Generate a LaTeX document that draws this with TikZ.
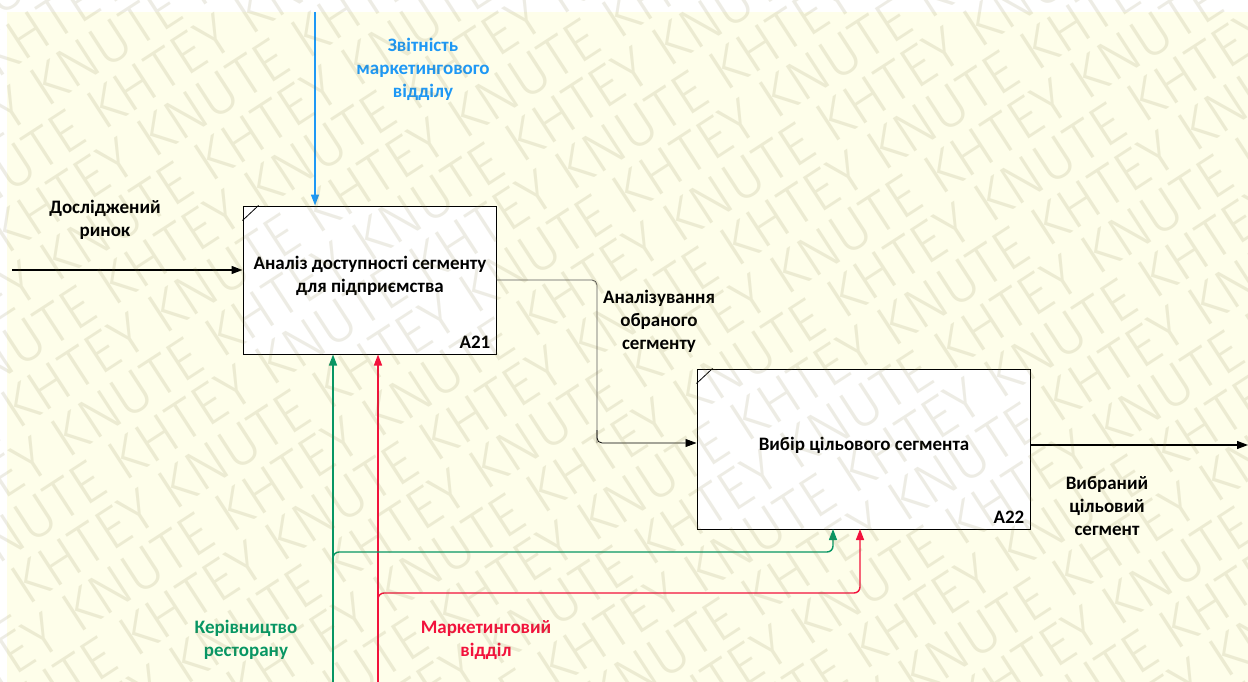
\documentclass[tikz,border=0pt]{standalone}
\usepackage{fontspec}
\setmainfont{Carlito}
\newfontfamily\wmfont{Fira Sans Light}
\usetikzlibrary{arrows.meta}
\definecolor{bgyellow}{RGB}{254,254,234}
\definecolor{cblue}{RGB}{30,152,245}
\definecolor{cgreen}{RGB}{8,150,100}
\definecolor{cred}{RGB}{242,18,60}
\definecolor{cgrayline}{RGB}{90,90,90}
\definecolor{wmcol}{RGB}{120,110,50}
\newlength\wmP
\settowidth\wmP{\wmfont\fontsize{58}{58}\selectfont KHTEY KNUTE }
\tikzset{
  lbl/.style={align=center, font=\bfseries\fontsize{19}{23}\selectfont, inner sep=0pt},
  fbox/.style={draw=black, line width=1pt, fill=white, minimum width=253pt, minimum height=148pt, inner sep=0pt},
  code/.style={font=\bfseries\fontsize{19}{23}\selectfont, inner sep=0pt, anchor=base east},
  tip/.style={-{Triangle[length=11pt,width=8pt]}},
  wm/.style={font=\wmfont\fontsize{58}{58}\selectfont, text=wmcol, text opacity=0.13, inner sep=0pt, anchor=base west, transform shape},
}
\begin{document}
\begin{tikzpicture}[x=1pt,y=-1pt]
\useasboundingbox (0,0) rectangle (1248,682);
\fill[white] (0,0) rectangle (1248,682);
\fill[bgyellow] (7,12) rectangle (1248,682);

% function boxes
\node[fbox] (A21) at (369.5,280) {};
\node[fbox, minimum width=333pt, minimum height=160pt] (A22) at (863.5,449) {};
\draw[line width=0.8pt] ([yshift=-15pt]A21.north west) -- ([xshift=16pt]A21.north west);
\draw[line width=0.8pt] ([yshift=-15pt]A22.north west) -- ([xshift=16pt]A22.north west);
\node[lbl] (t21) at (370,276) {Аналіз доступності сегменту\\для підприємства};
\node[lbl] (t22) at (864,445) {Вибір цільового сегмента};
\node[code] (c21) at ([xshift=-6pt,yshift=6pt]A21.south east) {A21};
\node[code] (c22) at ([xshift=-6pt,yshift=6pt]A22.south east) {A22};

% coordinates
\coordinate (blueTop) at (315,12);
\coordinate (inL) at (12,270);
\coordinate (outR) at (1248,445);
\coordinate (gBot) at (333,682);
\coordinate (rBot) at (378,682);
\coordinate (gJ) at (333,570);
\coordinate (rJ) at (378,610);

% connectors
\draw[cblue, line width=1.4pt, tip] (blueTop) -- (blueTop |- A21.north);
\draw[black, line width=1.2pt, tip] (inL) -- (inL -| A21.west);
\draw[cgrayline, line width=0.8pt, rounded corners=5pt] (A21.east |- 0,280) -- (597,280) -- (597,443);
\draw[black, line width=0.8pt, rounded corners=5pt, tip] (597,430) -- (597,443) -- (A22.west |- 0,443);
\draw[black, line width=1.2pt, tip] (outR -| A22.east) -- (outR);
\draw[cgreen, line width=1.4pt, tip] (gBot) -- (gBot |- A21.south);
\draw[cred, line width=1.4pt, tip] (rBot) -- (rBot |- A21.south);
\draw[cgreen, line width=1.4pt, rounded corners=6pt, tip] (gJ) -- (333,552) -- (833,552) -- (833,540) -- (833,529);
\draw[cred, line width=1.4pt, rounded corners=6pt, tip] (rJ) -- (378,593) -- (860,593) -- (860,540) -- (860,529);

% labels
\node[lbl, text=cblue] (lZv) at (423,69) {Звітність\\маркетингового\\відділу};
\node[lbl] (lDos) at (105,220) {Досліджений\\ринок};
\node[lbl] (lAn) at (659,321) {Аналізування\\обраного\\сегменту};
\node[lbl] (lVyb) at (1107,506) {Вибраний\\цільовий\\сегмент};
\node[lbl, text=cgreen] (lKer) at (246,640) {Керівництво\\ресторану};
\node[lbl, text=cred] (lMar) at (486,640) {Маркетинговий\\відділ};

% watermark
\begin{scope}
\clip (0,0) rectangle (1248,682);
\begin{scope}[shift={(624,341)}, rotate=33]
\foreach \k in {-15,...,15} {
  \pgfmathsetmacro\s{Mod(\k*210,\wmP)-1300}
  \node[wm] (wm\k) at (\s,\k*51) {KHTEY KNUTE KHTEY KNUTE KHTEY KNUTE KHTEY KNUTE KHTEY KNUTE KHTEY KNUTE KHTEY KNUTE};
}
\end{scope}
\end{scope}
\end{tikzpicture}
\end{document}
